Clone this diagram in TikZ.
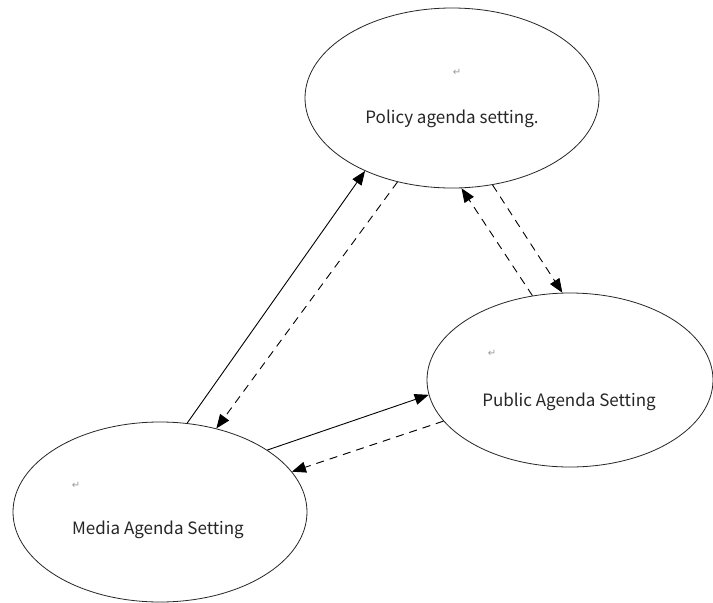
\documentclass[tikz,border=0pt]{standalone}
\usepackage{fontspec}
\newfontfamily\cjk{Noto Sans CJK SC}
\newfontfamily\symfont{DejaVu Sans}
\usetikzlibrary{shapes.geometric,arrows.meta}
\begin{document}
\begin{tikzpicture}[x=1pt,y=-1pt,
  bubble/.style={draw=black!85, line width=0.8pt, ellipse, inner sep=0pt},
  lbl/.style={font=\cjk\fontsize{17}{19}\selectfont, text=black!85, inner sep=0pt},
  ret/.style={font=\symfont\fontsize{10}{11}\selectfont, text=black!40, inner sep=0pt},
  solidarrow/.style={line width=0.9pt, -{Triangle[length=14pt,width=11pt]}},
  dasharrow/.style={line width=0.9pt, dash pattern=on 8pt off 6pt, -{Triangle[length=14pt,width=11pt]}}]
\useasboundingbox (0,0) rectangle (713,603);
\fill[white] (0,0) rectangle (713,603);

\node[bubble, minimum width=294pt, minimum height=180pt] (policy) at (452,98) {};
\node[bubble, minimum width=286pt, minimum height=174pt] (public) at (570,380) {};
\node[bubble, minimum width=294pt, minimum height=180pt] (media) at (160,512) {};

\node[lbl] (policyt) at (452,119) {Policy agenda setting.};
\node[lbl] (publict) at (569,402) {Public Agenda Setting};
\node[lbl] (mediat) at (158,530) {Media Agenda Setting};

\node[ret] (policyr) at (457,72) {↵};
\node[ret] (publicr) at (492,353) {↵};
\node[ret] (mediar) at (76,485) {↵};

\draw[solidarrow] (media.73.9) -- (policy.220.7);
\draw[dasharrow] (policy.237) -- (media.56);
\draw[solidarrow] (media.30.1) -- (public.186.3);
\draw[dasharrow] (public.198.2) -- (media.17.6);
\draw[dasharrow] (policy.295) -- (public.95);
\draw[dasharrow] (public.114.7) -- (policy.276.6);
\end{tikzpicture}
\end{document}
